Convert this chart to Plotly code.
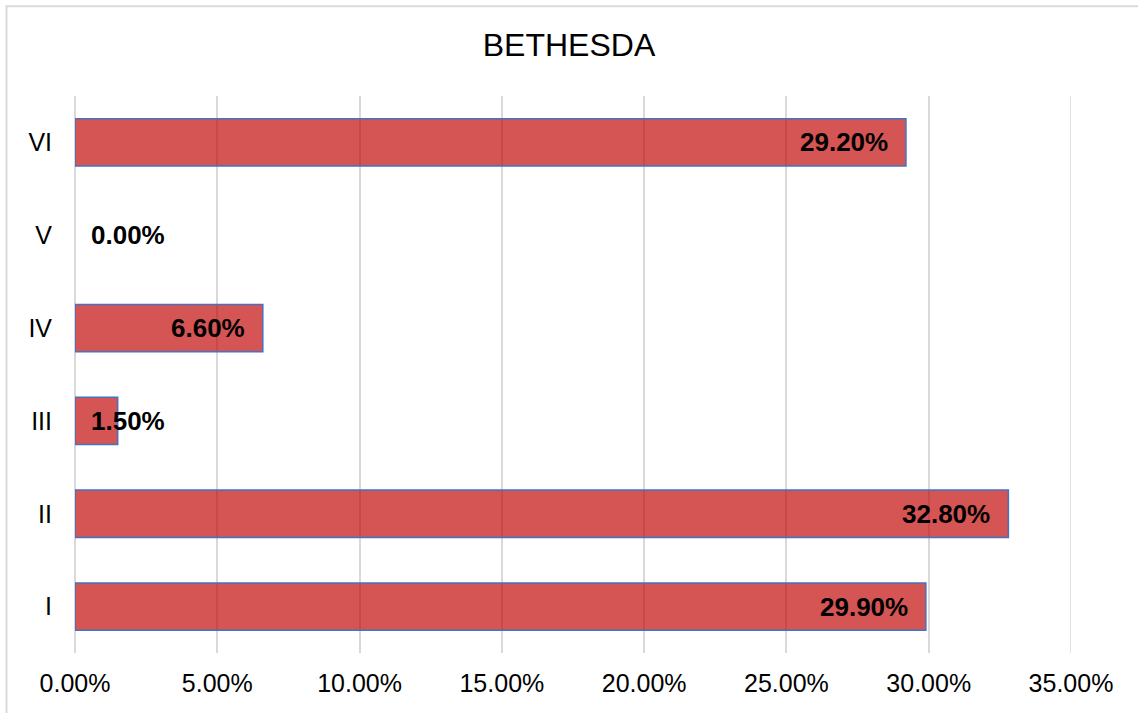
import plotly.graph_objects as go

categories = ["I", "II", "III", "IV", "V", "VI"]
values = [29.9, 32.8, 1.5, 6.6, 0.0, 29.2]
x_ticks = [0, 5, 10, 15, 20, 25, 30, 35]
x_tick_labels = [f"{v:.2f}%" for v in x_ticks]
title_text = "BETHESDA"

W, H = 1138, 713
ml, mr, mt, mb = 75, 67, 95.5, 59.5
xmax = 35
plot_w = W - ml - mr
px_per_unit = plot_w / xmax

fig = go.Figure()
fig.add_trace(go.Bar(
    y=categories, x=values, orientation="h",
    marker=dict(color="rgba(192,0,0,0.67)",
                line=dict(color="#4472C4", width=[1.5 if v > 0 else 0 for v in values])),
    hoverinfo="skip",
))

label_font = dict(family="Liberation Sans, Arial, sans-serif", size=26, color="#000000")
for cat, v in zip(categories, values):
    txt = f"<b>{v:.2f}%</b>"
    est_w = 2.84 * 26 + (0.556 * 26 if v >= 10 else 0)
    if v * px_per_unit - 18 - est_w >= 15:
        fig.add_annotation(x=v, y=cat, text=txt, showarrow=False, xanchor="right",
                           xshift=-16, font=label_font)
    else:
        fig.add_annotation(x=0, y=cat, text=txt, showarrow=False, xanchor="left",
                           xshift=14, font=label_font)

# gridline at the right edge of the range
fig.add_shape(type="line", xref="x", yref="paper", x0=x_ticks[-1], x1=x_ticks[-1],
              y0=0, y1=1, line=dict(color="#D9D9D9", width=1.5), layer="below")

# outer frame
fig.add_shape(type="rect", xref="paper", yref="paper",
              x0=(6.5 - ml) / plot_w, x1=(W + 5 - ml) / plot_w,
              y0=(H - mb - (H + 5)) / (H - mt - mb), y1=(H - mb - 5.5) / (H - mt - mb),
              line=dict(color="#D9D9D9", width=2), fillcolor="rgba(0,0,0,0)", layer="below")

fig.update_layout(
    width=W, height=H,
    margin=dict(l=ml, r=mr, t=mt, b=mb),
    paper_bgcolor="white", plot_bgcolor="white",
    bargap=0.49,
    showlegend=False,
    title=dict(text=title_text, x=0.5, xanchor="center", y=1 - 45 / H, yanchor="middle",
               yref="container",
               font=dict(family="Liberation Sans, Arial, sans-serif", size=32, color="#000000")),
    font=dict(family="Liberation Sans, Arial, sans-serif", size=25, color="#000000"),
)
fig.update_xaxes(range=[0, xmax], tickvals=x_ticks, ticktext=x_tick_labels,
                 showgrid=True, gridcolor="#D9D9D9", gridwidth=1.5,
                 zeroline=True, zerolinecolor="#D9D9D9", zerolinewidth=1.5,
                 showline=False, ticks="", ticklabelstandoff=13,
                 tickfont=dict(size=25, color="#000000"))
fig.update_yaxes(categoryorder="array", categoryarray=categories,
                 showgrid=False, zeroline=False, showline=False, ticks="",
                 ticklabelstandoff=22, tickfont=dict(size=25, color="#000000"))

fig.write_html("out.html")
